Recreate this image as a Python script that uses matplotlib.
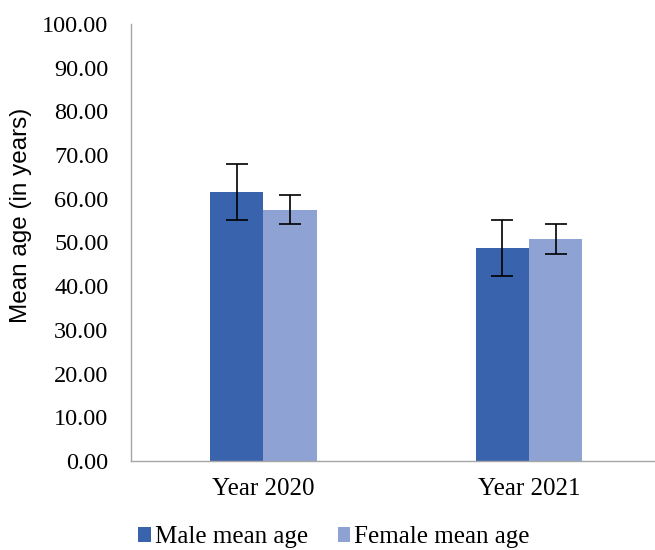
import matplotlib.pyplot as plt
import numpy as np

years = ['Year 2020', 'Year 2021']
male_mean = [61.6, 48.8]
male_err = [6.4, 6.4]
female_mean = [57.5, 50.7]
female_err = [3.4, 3.4]

male_color = '#3A63AD'
female_color = '#8EA2D4'

plt.rcParams['font.family'] = 'Liberation Serif'

fig = plt.figure(figsize=(6.55, 5.5), dpi=100)
ax = fig.add_axes([0.1996, 0.162, 0.8107, 0.7945])

x = np.arange(len(years))
w = 0.2
ekw = dict(ecolor='black', elinewidth=1.2, capthick=1.2)
ax.bar(x - w / 2, male_mean, w, color=male_color, label='Male mean age',
       yerr=male_err, capsize=8, error_kw=ekw)
ax.bar(x + w / 2, female_mean, w, color=female_color, label='Female mean age',
       yerr=female_err, capsize=8, error_kw=ekw)

ax.set_xlim(-0.5, 1.5)
ax.set_ylim(0, 100)
ax.set_yticks(np.arange(0, 101, 10))
ax.set_yticklabels([f'{v:.2f}' for v in np.arange(0, 101, 10)], fontsize=17.5)
ax.set_xticks(x)
ax.set_xticklabels(years, fontsize=18)
ax.tick_params(axis='x', length=0, pad=12)
ax.tick_params(axis='y', length=0, pad=16)

for s in ['top', 'right']:
    ax.spines[s].set_visible(False)
for s in ['left', 'bottom']:
    ax.spines[s].set_color('#A6A6A6')
    ax.spines[s].set_linewidth(1)

ax.set_ylabel('Mean age (in years)', family='Liberation Sans', fontsize=17.5)
ax.yaxis.set_label_coords(-0.186, 0.563)

fig.legend(loc='lower left', bbox_to_anchor=(0.177, -0.038), ncol=2, frameon=False,
           fontsize=18, handlelength=0.5, handleheight=0.5, handletextpad=0.15,
           columnspacing=1.2)

fig.savefig('out.png', dpi=100)
